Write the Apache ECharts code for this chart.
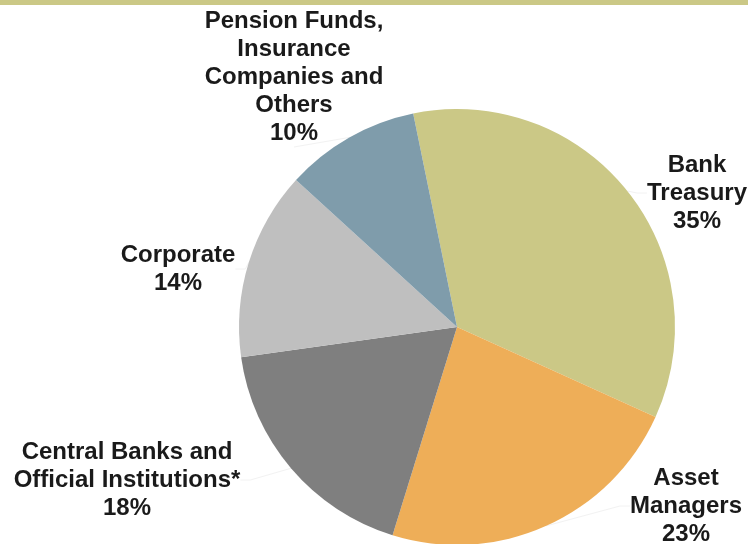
<!DOCTYPE html>
<html>
<head>
<meta charset="utf-8">
<script src="https://cdn.jsdelivr.net/npm/echarts@6/dist/echarts.min.js"></script>
<style>
html,body{margin:0;padding:0;background:#fff;}
#chart{width:748px;height:544px;}
</style>
</head>
<body>
<div id="chart"></div>
<script>
// Data
var categories = [
  "Bank\nTreasury",
  "Asset\nManagers",
  "Central Banks and\nOfficial Institutions*",
  "Corporate",
  "Pension Funds,\nInsurance\nCompanies and\nOthers"
];
var shares = [35, 23, 18, 14, 10];
var colors = ["#cbc886", "#eeae58", "#7f7f7f", "#bfbfbf", "#7f9cab"];

// Label anchor positions (layout)
var labelAnchors = [
  [697, 193],
  [686, 506],
  [127, 480],
  [178, 269],
  [294, 77]
];

var chart = echarts.init(document.getElementById('chart'), null, {renderer: 'canvas'});
var option = {
  backgroundColor: '#ffffff',
  animation: false,
  graphic: [{
    type: 'rect',
    shape: {x: 0, y: 0, width: 748, height: 5},
    style: {fill: '#cbc886'},
    z: 10
  }],
  series: [{
    type: 'pie',
    center: [457, 327],
    radius: 218,
    startAngle: 101.6,
    clockwise: true,
    avoidLabelOverlap: false,
    itemStyle: {borderWidth: 0},
    label: {
      show: true,
      position: 'outside',
      formatter: '{b}\n{c}%',
      fontFamily: 'Liberation Sans',
      fontWeight: 'bold',
      fontSize: 24,
      lineHeight: 28,
      color: '#1a1a1a',
      align: 'center'
    },
    labelLine: {
      show: true,
      lineStyle: {color: '#f2f2f2', width: 1},
      length: 10,
      length2: 10
    },
    labelLayout: function (params) {
      var p = labelAnchors[params.dataIndex];
      return {x: p[0], y: p[1], align: 'center', verticalAlign: 'middle'};
    },
    emphasis: {disabled: true},
    data: categories.map(function (c, i) {
      return {name: c, value: shares[i], itemStyle: {color: colors[i]}};
    })
  }]
};
chart.setOption(option);
</script>
</body>
</html>
